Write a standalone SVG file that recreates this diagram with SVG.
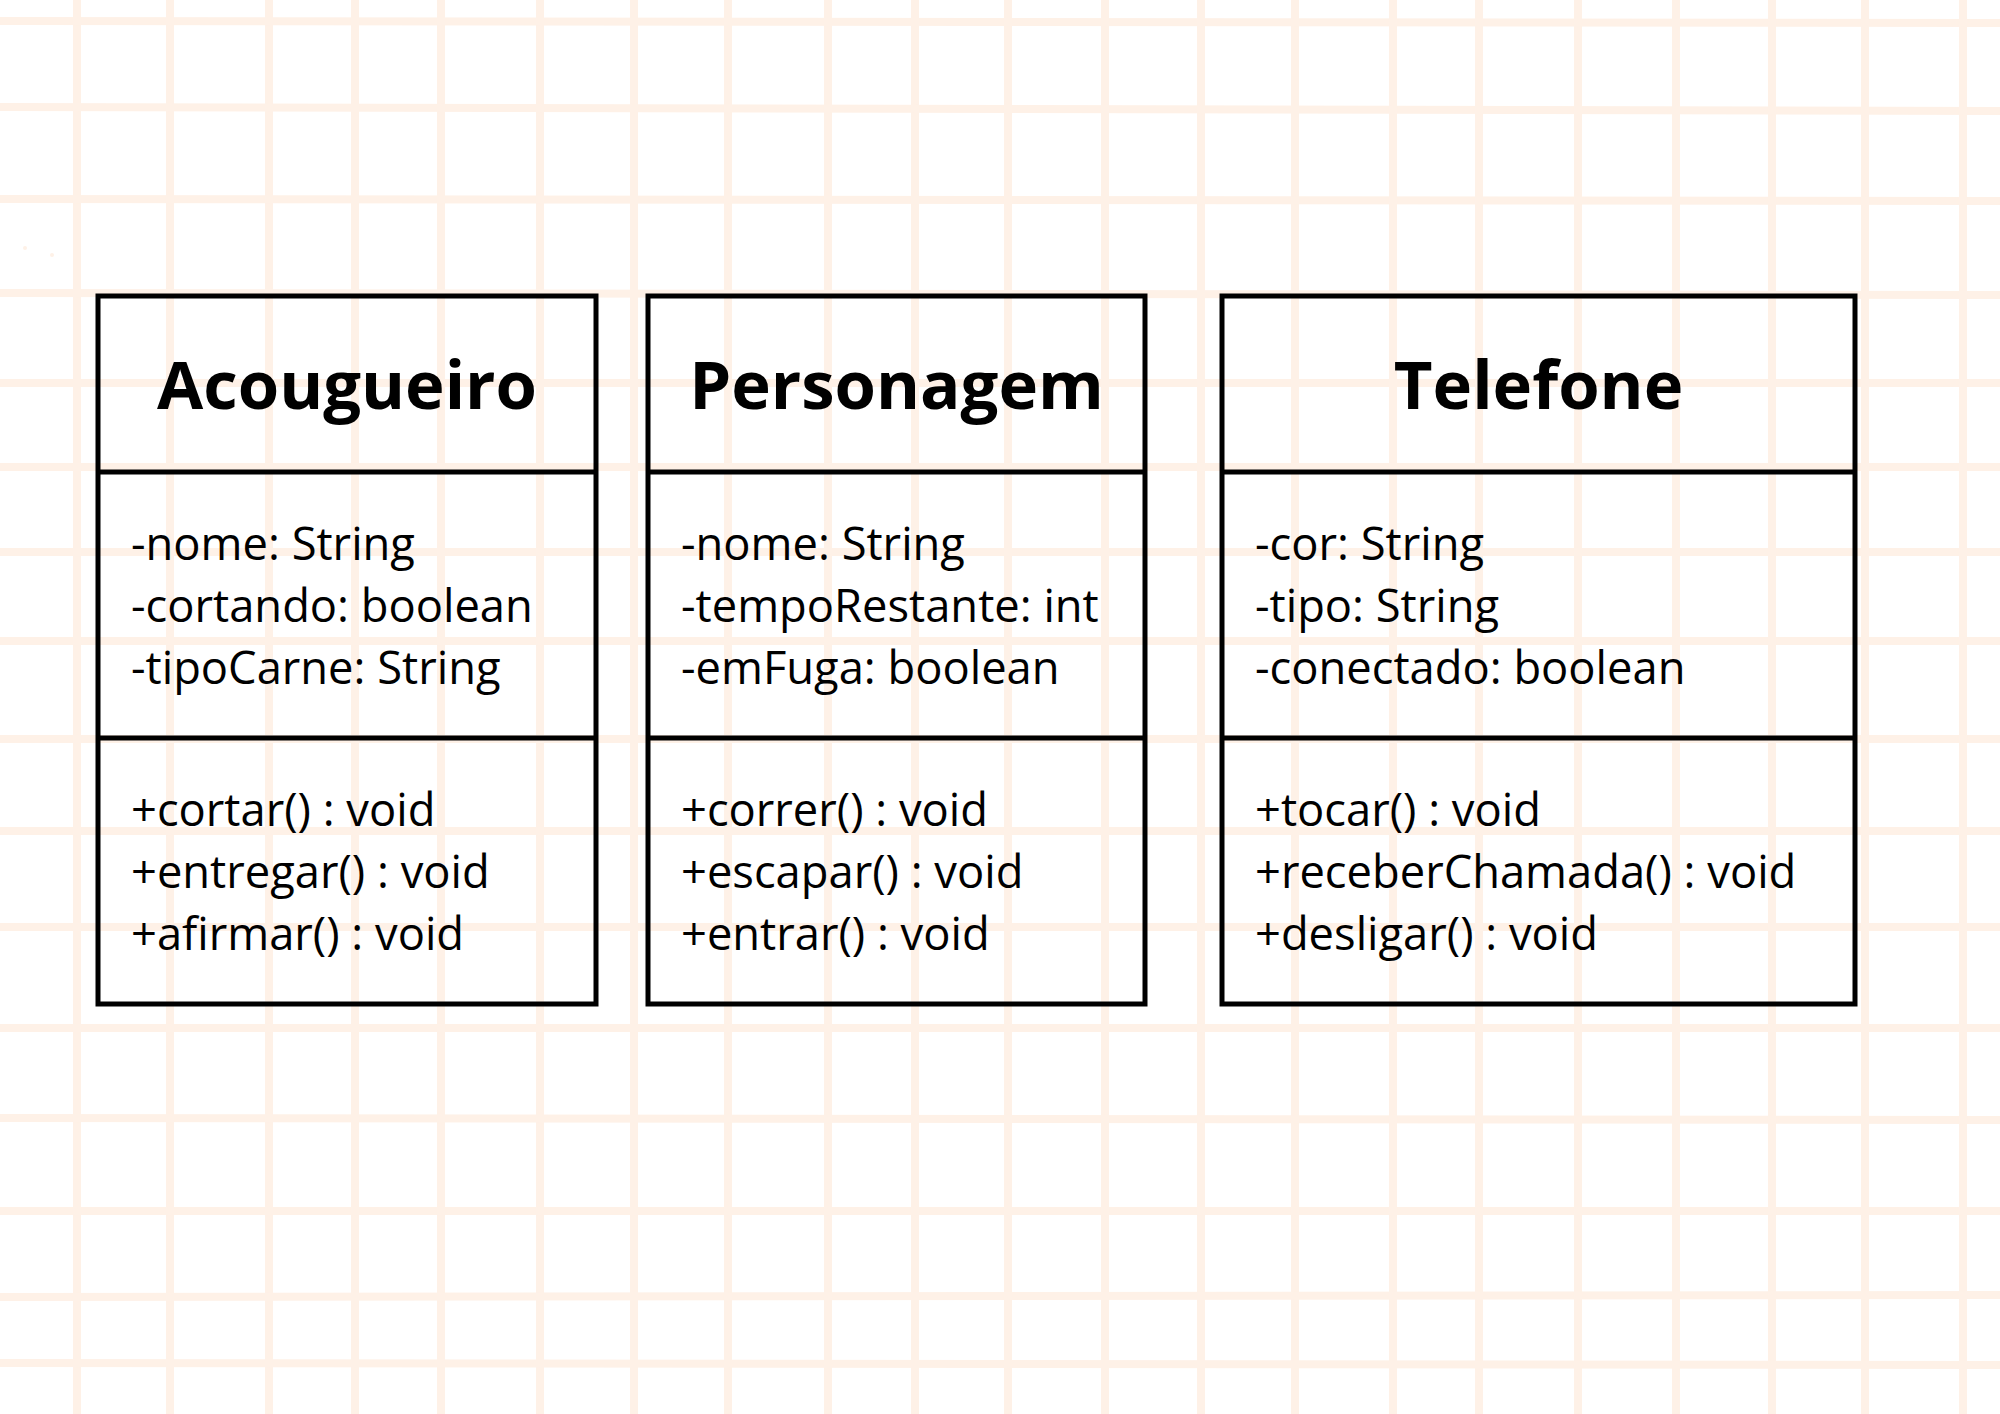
<svg xmlns="http://www.w3.org/2000/svg" width="2000" height="1414" viewBox="0 0 2000 1414">
<style>
.grid line{stroke:#FEF1E7;stroke-width:8}
.box{fill:none;stroke:#000;stroke-width:5}
.div{stroke:#000;stroke-width:5}
.title{font-family:"Open Sans","Liberation Sans",sans-serif;font-weight:700;font-size:67px;fill:#000;text-anchor:middle}
.txt{font-family:"Open Sans","Liberation Sans",sans-serif;font-size:45.3px;fill:#000}
</style>
<rect width="2000" height="1414" fill="#FFFFFF"/>
<g class="grid" id="grid">
<line x1="77" y1="0" x2="77" y2="1414"/>
<line x1="170" y1="0" x2="170" y2="1414"/>
<line x1="269" y1="0" x2="269" y2="1414"/>
<line x1="355" y1="0" x2="355" y2="1414"/>
<line x1="441" y1="0" x2="441" y2="1414"/>
<line x1="540" y1="0" x2="540" y2="1414"/>
<line x1="634" y1="0" x2="634" y2="1414"/>
<line x1="728" y1="0" x2="728" y2="1414"/>
<line x1="828" y1="0" x2="828" y2="1414"/>
<line x1="915" y1="0" x2="915" y2="1414"/>
<line x1="1008" y1="0" x2="1008" y2="1414"/>
<line x1="1105" y1="0" x2="1105" y2="1414"/>
<line x1="1201" y1="0" x2="1201" y2="1414"/>
<line x1="1295" y1="0" x2="1295" y2="1414"/>
<line x1="1393" y1="0" x2="1393" y2="1414"/>
<line x1="1479" y1="0" x2="1479" y2="1414"/>
<line x1="1578" y1="0" x2="1578" y2="1414"/>
<line x1="1676" y1="0" x2="1676" y2="1414"/>
<line x1="1772" y1="0" x2="1772" y2="1414"/>
<line x1="1865" y1="0" x2="1865" y2="1414"/>
<line x1="1963" y1="0" x2="1963" y2="1414"/>
<line x1="0" y1="21" x2="2000" y2="23"/>
<line x1="0" y1="107" x2="2000" y2="111"/>
<line x1="0" y1="199" x2="2000" y2="201"/>
<line x1="0" y1="293" x2="2000" y2="295"/>
<line x1="0" y1="383" x2="2000" y2="383"/>
<line x1="0" y1="467" x2="2000" y2="467"/>
<line x1="0" y1="552" x2="2000" y2="552"/>
<line x1="0" y1="641" x2="2000" y2="641"/>
<line x1="0" y1="739" x2="2000" y2="739"/>
<line x1="0" y1="831" x2="2000" y2="831"/>
<line x1="0" y1="927" x2="2000" y2="927"/>
<line x1="0" y1="1028" x2="2000" y2="1028"/>
<line x1="0" y1="1118" x2="2000" y2="1120"/>
<line x1="0" y1="1211" x2="2000" y2="1211"/>
<line x1="0" y1="1297" x2="2000" y2="1295"/>
<line x1="0" y1="1363" x2="2000" y2="1365"/>
</g>
<circle cx="25" cy="248" r="2" fill="#FEF1E7"/>
<circle cx="52" cy="255" r="2" fill="#FEF1E7"/>
<g id="connectors"></g>
<g id="acougueiro">
<rect class="box" x="98" y="296" width="498" height="708"/>
<line class="div" x1="98" y1="472" x2="596" y2="472"/>
<line class="div" x1="98" y1="738" x2="596" y2="738"/>
<text class="title" x="347" y="409">Acougueiro</text>
<text class="txt" x="131" y="560">-nome: String</text>
<text class="txt" x="131" y="622">-cortando: boolean</text>
<text class="txt" x="131" y="684">-tipoCarne: String</text>
<text class="txt" x="131" y="826">+cortar() : void</text>
<text class="txt" x="131" y="888">+entregar() : void</text>
<text class="txt" x="131" y="950">+afirmar() : void</text>
</g>
<g id="personagem">
<rect class="box" x="648" y="296" width="497" height="708"/>
<line class="div" x1="648" y1="472" x2="1145" y2="472"/>
<line class="div" x1="648" y1="738" x2="1145" y2="738"/>
<text class="title" x="896.5" y="409">Personagem</text>
<text class="txt" x="681" y="560">-nome: String</text>
<text class="txt" x="681" y="622">-tempoRestante: int</text>
<text class="txt" x="681" y="684">-emFuga: boolean</text>
<text class="txt" x="681" y="826">+correr() : void</text>
<text class="txt" x="681" y="888">+escapar() : void</text>
<text class="txt" x="681" y="950">+entrar() : void</text>
</g>
<g id="telefone">
<rect class="box" x="1222" y="296" width="633" height="708"/>
<line class="div" x1="1222" y1="472" x2="1855" y2="472"/>
<line class="div" x1="1222" y1="738" x2="1855" y2="738"/>
<text class="title" x="1538.5" y="409">Telefone</text>
<text class="txt" x="1255" y="560">-cor: String</text>
<text class="txt" x="1255" y="622">-tipo: String</text>
<text class="txt" x="1255" y="684">-conectado: boolean</text>
<text class="txt" x="1255" y="826">+tocar() : void</text>
<text class="txt" x="1255" y="888">+receberChamada() : void</text>
<text class="txt" x="1255" y="950">+desligar() : void</text>
</g>
</svg>
